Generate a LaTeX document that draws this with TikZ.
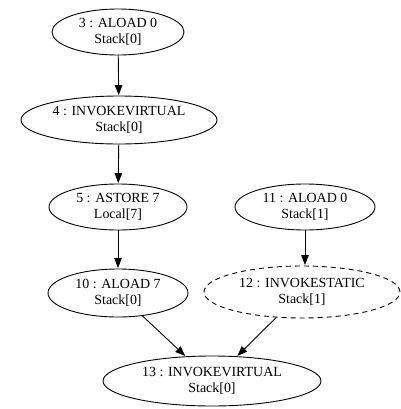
\documentclass[tikz,border=0pt]{standalone}
\usepackage{fontspec}
\setmainfont{Liberation Serif}
\usetikzlibrary{shapes.geometric,arrows.meta}
\tikzset{
  op/.style={ellipse, draw, line width=0.9bp, inner sep=0pt, align=center,
    font=\fontsize{14}{16.5}\selectfont, minimum height=48bp},
  dsh/.style={dash pattern=on 5bp off 4bp},
  edge/.style={draw, line width=0.9bp, -{Triangle[length=10bp,width=7.5bp]}, shorten >=0.5bp}
}
\begin{document}
\begin{tikzpicture}[x=1bp,y=-1bp]
\useasboundingbox (0,0) rectangle (401,409);
\node[op, minimum width=132bp, minimum height=46bp] (n3) at (118,32) {3 : ALOAD 0\\Stack[0]};
\node[op, minimum width=196bp] (n4) at (119,120) {4 : INVOKEVIRTUAL\\Stack[0]};
\node[op, minimum width=138bp, minimum height=46bp] (n5) at (118,207) {5 : ASTORE 7\\Local[7]};
\node[op, minimum width=140bp] (n10) at (118,293) {10 : ALOAD 7\\Stack[0]};
\node[op, minimum width=140bp, minimum height=46bp] (n11) at (305,207) {11 : ALOAD 0\\Stack[1]};
\node[op, dsh, minimum width=196bp, minimum height=52bp] (n12) at (302,292) {12 : INVOKESTATIC\\Stack[1]};
\node[op, minimum width=218bp, minimum height=50bp] (n13) at (212,381) {13 : INVOKEVIRTUAL\\Stack[0]};
\draw[edge] (n3) -- (n4);
\draw[edge] (n4) -- (n5);
\draw[edge] (n5) -- (n10);
\draw[edge] (n11) -- (n11 |- n12.north);
\draw[edge] (n10) -- (n13);
\draw[edge] (n12) -- (n13);
\end{tikzpicture}
\end{document}
